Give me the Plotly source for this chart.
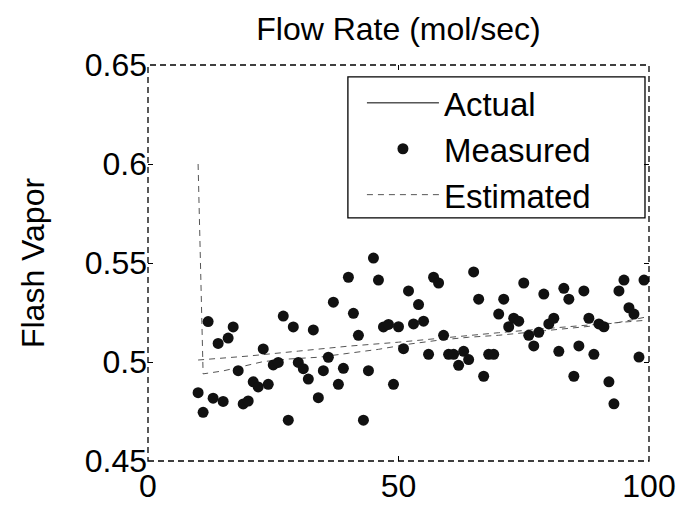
import plotly.graph_objects as go

# Measured data (x = sample index, y = flash vapor flow rate)
measured_x = list(range(10, 100))
measured_y = [
    0.4845, 0.4746, 0.5204, 0.4817, 0.5094, 0.4801, 0.5121, 0.5177, 0.4956, 0.4788,
    0.4803, 0.4900, 0.4874, 0.5066, 0.4887, 0.4985, 0.4998, 0.5232, 0.4706, 0.5177,
    0.4998, 0.4966, 0.4914, 0.5162, 0.4820, 0.4956, 0.5024, 0.5302, 0.4887, 0.4968,
    0.5428, 0.5246, 0.5135, 0.4706, 0.4956, 0.5525, 0.5414, 0.5177, 0.5190, 0.4887,
    0.5178, 0.5067, 0.5359, 0.5192, 0.5290, 0.5206, 0.5039, 0.5428, 0.5399, 0.5135,
    0.5039, 0.5039, 0.4983, 0.5054, 0.5012, 0.5455, 0.5317, 0.4928, 0.5039, 0.5039,
    0.5242, 0.5317, 0.5178, 0.5221, 0.5206, 0.5399, 0.5135, 0.5081, 0.5150, 0.5343,
    0.5192, 0.5221, 0.5054, 0.5372, 0.5317, 0.4928, 0.5081, 0.5359, 0.5221, 0.5039,
    0.5192, 0.5178, 0.4900, 0.4789, 0.5359, 0.5414, 0.5274, 0.5242, 0.5025, 0.5414,
]

actual_x = [10, 20, 30, 40, 50, 60, 70, 80, 90, 99]
actual_y = [0.501, 0.503, 0.5055, 0.508, 0.510, 0.5125, 0.5148, 0.517, 0.519, 0.521]

estimated_x = [10, 11, 15, 18, 23, 28, 34, 40, 46, 52, 58, 64, 70, 76, 82, 88, 94, 99]
estimated_y = [0.600, 0.494, 0.4955, 0.4973, 0.5002, 0.5015, 0.5024, 0.5044, 0.5064,
               0.509, 0.511, 0.5125, 0.5135, 0.515, 0.5165, 0.518, 0.520, 0.5225]

x_ticks = [0, 50, 100]
x_ticktext = ["0", "50", "100"]
y_ticks = [0.45, 0.5, 0.55, 0.6, 0.65]
y_ticktext = ["0.45", "0.5", "0.55", "0.6", "0.65"]

FONT = "Liberation Sans, Arial, sans-serif"
LINE_GRAY = "#555555"

fig = go.Figure()

# plotted lines (drawn dashed as in the reference rendering)
fig.add_trace(go.Scatter(x=actual_x, y=actual_y, mode="lines",
                         line=dict(color=LINE_GRAY, width=1, dash="6px,5px"),
                         showlegend=False, hoverinfo="skip"))
fig.add_trace(go.Scatter(x=estimated_x, y=estimated_y, mode="lines",
                         line=dict(color=LINE_GRAY, width=1, dash="6px,5px"),
                         showlegend=False, hoverinfo="skip"))
fig.add_trace(go.Scatter(x=measured_x, y=measured_y, mode="markers",
                         marker=dict(color="#111111", size=11),
                         showlegend=False))

# legend entries
fig.add_trace(go.Scatter(x=[None], y=[None], mode="lines", name="Actual",
                         line=dict(color="black", width=1)))
fig.add_trace(go.Scatter(x=[None], y=[None], mode="markers", name="Measured",
                         marker=dict(color="#111111", size=11)))
fig.add_trace(go.Scatter(x=[None], y=[None], mode="lines", name="Estimated",
                         line=dict(color=LINE_GRAY, width=1, dash="6px,5px")))

# dashed axes frame
fig.add_shape(type="rect", xref="paper", yref="paper", x0=0, y0=0, x1=1, y1=1,
              line=dict(color="black", width=1.3, dash="6px,4px"), layer="above")
# legend box frame
fig.add_shape(type="rect", xref="paper", yref="paper", x0=0.399, y0=0.614, x1=0.992, y1=0.970,
              line=dict(color="black", width=1.3), fillcolor="white", layer="below")

# figure sized so that it fits entirely inside the 686x510 window (page has an 8px body margin)
FIG_W, FIG_H = 678, 502

fig.update_layout(
    width=FIG_W, height=FIG_H,
    margin=dict(l=140, r=37, t=57, b=49),
    paper_bgcolor="white", plot_bgcolor="white",
    font=dict(family=FONT, size=32, color="black"),
    title=dict(text="Flow Rate (mol/sec)", x=0.5, xref="paper",
               y=1 - 21 / FIG_H, yref="container", yanchor="middle",
               font=dict(family=FONT, size=32, color="black")),
    legend=dict(x=0.427, y=0.975, xanchor="left", yanchor="top",
                bgcolor="rgba(0,0,0,0)", borderwidth=0,
                font=dict(family=FONT, size=33, color="black"),
                itemwidth=72, tracegroupgap=0),
    xaxis=dict(range=[0, 100], tickvals=x_ticks, ticktext=x_ticktext,
               showgrid=False, zeroline=False, showline=False, automargin=False,
               ticks="inside", ticklen=5, tickcolor="black", mirror="ticks",
               ticklabelstandoff=3,
               tickfont=dict(family=FONT, size=32)),
    yaxis=dict(range=[0.45, 0.65], tickvals=y_ticks, ticktext=y_ticktext,
               showgrid=False, zeroline=False, showline=False, automargin=False,
               ticks="inside", ticklen=5, tickcolor="black", mirror="ticks",
               tickfont=dict(family=FONT, size=32),
               title=dict(text="Flash Vapor", standoff=30,
                          font=dict(family=FONT, size=32))),
)

fig.write_html("out.html")
